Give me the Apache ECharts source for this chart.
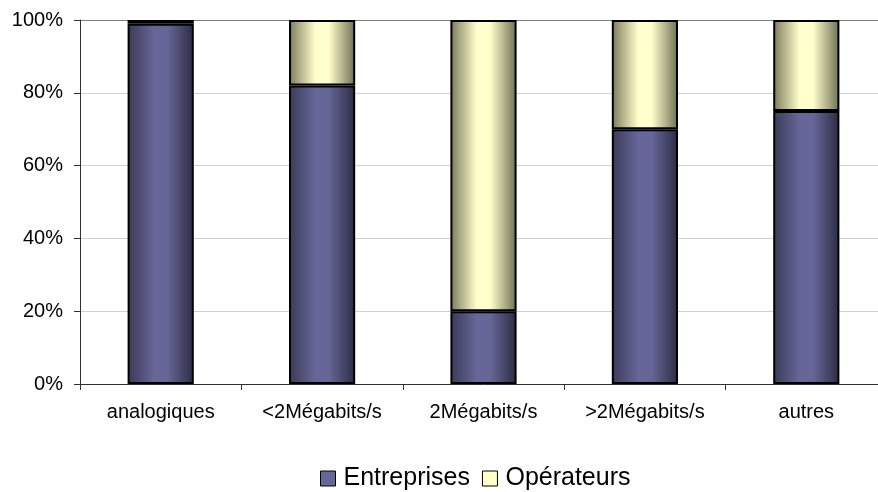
<!DOCTYPE html>
<html><head><meta charset="utf-8">
<script src="https://cdn.jsdelivr.net/npm/echarts@6/dist/echarts.min.js"></script>
<style>html,body{margin:0;padding:0;background:#fff;overflow:hidden}#c{width:900px;height:492px}</style>
</head><body><div id="c"></div>
<script>
const categories = ['analogiques', '<2Mégabits/s', '2Mégabits/s', '>2Mégabits/s', 'autres'];
const entreprises = [99, 82, 20, 70, 75];
const operateurs = [1, 18, 80, 30, 25];
const yTicks = [0, 20, 40, 60, 80, 100];

const chart = echarts.init(document.getElementById('c'));
const grad = (left, mid, right) => new echarts.graphic.LinearGradient(0, 0, 1, 0, [
  {offset: 0, color: left}, {offset: 0.4, color: mid}, {offset: 0.6, color: mid}, {offset: 1, color: right}
]);
chart.setOption({
  animation: false,
  textStyle: {fontFamily: 'Liberation Sans, Arial, sans-serif'},
  grid: {left: 80, right: 13, top: 20, bottom: 108, containLabel: false},
  legend: {
    top: 461, left: 315, itemWidth: 15, itemHeight: 15, itemGap: 12,
    icon: 'rect',
    textStyle: {fontSize: 25, color: '#000', padding: [0, 0, 0, 3]},
    data: [
      {name: 'Entreprises', itemStyle: {color: '#666699', borderColor: '#000', borderWidth: 1}},
      {name: 'Opérateurs', itemStyle: {color: '#ffffcc', borderColor: '#000', borderWidth: 1}}
    ]
  },
  xAxis: {
    type: 'category', data: categories,
    axisLine: {lineStyle: {color: '#303030', width: 1}},
    axisTick: {show: true, alignWithLabel: false, length: 6, lineStyle: {color: '#303030'}},
    axisLabel: {fontSize: 20, color: '#000', margin: 18, interval: 0},
    splitLine: {show: false}
  },
  yAxis: {
    type: 'value', min: 0, max: 100, interval: 20,
    axisLine: {show: true, lineStyle: {color: '#303030'}},
    axisTick: {show: true, length: 6, lineStyle: {color: '#303030'}},
    axisLabel: {fontSize: 20, color: '#000', margin: 17, formatter: v => yTicks.includes(v) ? v + '%' : ''},
    splitLine: {show: true, lineStyle: {color: ['#d0d0d0', '#d0d0d0', '#d0d0d0', '#d0d0d0', '#d0d0d0', '#808080'], width: 1}}
  },
  series: [
    {name: 'Entreprises', type: 'bar', stack: 'a', data: entreprises, barWidth: '41%',
     itemStyle: {color: grad('#3a3a58', '#666699', '#2c2c44'), borderColor: '#000', borderWidth: 2}},
    {name: 'Opérateurs', type: 'bar', stack: 'a', data: operateurs, barWidth: '41%',
     itemStyle: {color: grad('#7a7a5c', '#ffffcc', '#6e6e54'), borderColor: '#000', borderWidth: 2}}
  ]
});
</script></body></html>
